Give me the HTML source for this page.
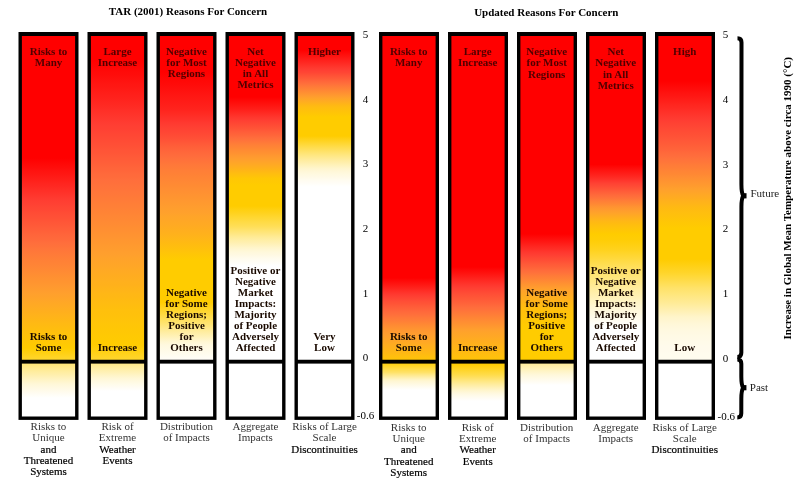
<!DOCTYPE html>
<html><head><meta charset="utf-8"><title>Reasons For Concern</title>
<style>
html,body{margin:0;padding:0;background:#fff;}
body{width:800px;height:482px;overflow:hidden;font-family:"Liberation Serif",serif;}
svg{display:block;position:absolute;left:0;top:0}
text{font-family:"Liberation Serif",serif;font-size:11px;text-anchor:middle;fill:#000}
.bt{font-weight:bold;fill:#500000}
.bb{font-weight:bold;fill:#1a0a00}
.ti{font-weight:bold;fill:#000}
.u{fill:#333}
.u2{fill:#000;stroke:#000;stroke-width:0.2px}
.ax{fill:#000}
.lb{text-anchor:start;fill:#222}
</style></head><body>
<svg width="800" height="482" viewBox="0 0 800 482">
<defs><linearGradient id="g00" gradientUnits="userSpaceOnUse" x1="0" y1="36.0" x2="0" y2="416.5"><stop offset="0.0000" stop-color="#ff0000"/><stop offset="0.0079" stop-color="#ff0000"/><stop offset="0.0158" stop-color="#ff0000"/><stop offset="0.0237" stop-color="#ff0000"/><stop offset="0.0315" stop-color="#ff0000"/><stop offset="0.0394" stop-color="#ff0000"/><stop offset="0.0473" stop-color="#ff0000"/><stop offset="0.0552" stop-color="#ff0000"/><stop offset="0.0631" stop-color="#ff0000"/><stop offset="0.0710" stop-color="#ff0000"/><stop offset="0.0788" stop-color="#ff0000"/><stop offset="0.0867" stop-color="#ff0000"/><stop offset="0.0946" stop-color="#ff0000"/><stop offset="0.1025" stop-color="#ff0000"/><stop offset="0.1104" stop-color="#ff0000"/><stop offset="0.1183" stop-color="#ff0000"/><stop offset="0.1261" stop-color="#ff0000"/><stop offset="0.1340" stop-color="#ff0000"/><stop offset="0.1419" stop-color="#ff0000"/><stop offset="0.1498" stop-color="#ff0000"/><stop offset="0.1577" stop-color="#ff0000"/><stop offset="0.1656" stop-color="#ff0000"/><stop offset="0.1735" stop-color="#ff0000"/><stop offset="0.1813" stop-color="#ff0000"/><stop offset="0.1892" stop-color="#ff0000"/><stop offset="0.1971" stop-color="#ff0000"/><stop offset="0.2050" stop-color="#ff0000"/><stop offset="0.2129" stop-color="#ff0000"/><stop offset="0.2208" stop-color="#ff0000"/><stop offset="0.2286" stop-color="#ff0000"/><stop offset="0.2365" stop-color="#ff0000"/><stop offset="0.2444" stop-color="#ff0000"/><stop offset="0.2523" stop-color="#ff0000"/><stop offset="0.2602" stop-color="#ff0000"/><stop offset="0.2681" stop-color="#ff0000"/><stop offset="0.2760" stop-color="#ff0000"/><stop offset="0.2838" stop-color="#ff0000"/><stop offset="0.2917" stop-color="#ff0000"/><stop offset="0.2996" stop-color="#ff0000"/><stop offset="0.3075" stop-color="#ff0000"/><stop offset="0.3154" stop-color="#ff0000"/><stop offset="0.3206" stop-color="#ff0000"/><stop offset="0.3233" stop-color="#ff0101"/><stop offset="0.3311" stop-color="#ff0605"/><stop offset="0.3390" stop-color="#ff0a08"/><stop offset="0.3469" stop-color="#ff0e0c"/><stop offset="0.3548" stop-color="#ff1310"/><stop offset="0.3627" stop-color="#ff1713"/><stop offset="0.3706" stop-color="#ff1b17"/><stop offset="0.3784" stop-color="#ff201a"/><stop offset="0.3863" stop-color="#ff241e"/><stop offset="0.3942" stop-color="#ff2822"/><stop offset="0.4021" stop-color="#ff2d25"/><stop offset="0.4100" stop-color="#ff3129"/><stop offset="0.4179" stop-color="#ff352c"/><stop offset="0.4258" stop-color="#ff3a30"/><stop offset="0.4336" stop-color="#ff3e32"/><stop offset="0.4415" stop-color="#ff4133"/><stop offset="0.4494" stop-color="#ff4534"/><stop offset="0.4520" stop-color="#ff4634"/><stop offset="0.4573" stop-color="#ff4834"/><stop offset="0.4652" stop-color="#ff4c35"/><stop offset="0.4731" stop-color="#ff4f36"/><stop offset="0.4809" stop-color="#ff5236"/><stop offset="0.4888" stop-color="#ff5637"/><stop offset="0.4967" stop-color="#ff5938"/><stop offset="0.5046" stop-color="#ff5d39"/><stop offset="0.5125" stop-color="#ff6039"/><stop offset="0.5204" stop-color="#ff643a"/><stop offset="0.5283" stop-color="#ff673b"/><stop offset="0.5361" stop-color="#ff6a3b"/><stop offset="0.5440" stop-color="#ff6e3c"/><stop offset="0.5519" stop-color="#ff713b"/><stop offset="0.5598" stop-color="#ff753a"/><stop offset="0.5677" stop-color="#ff7839"/><stop offset="0.5756" stop-color="#ff7b38"/><stop offset="0.5834" stop-color="#ff7e37"/><stop offset="0.5913" stop-color="#ff8136"/><stop offset="0.5992" stop-color="#ff8336"/><stop offset="0.6071" stop-color="#ff8635"/><stop offset="0.6150" stop-color="#ff8934"/><stop offset="0.6229" stop-color="#ff8c33"/><stop offset="0.6307" stop-color="#ff8f32"/><stop offset="0.6386" stop-color="#ff9231"/><stop offset="0.6465" stop-color="#ff9430"/><stop offset="0.6544" stop-color="#ff9730"/><stop offset="0.6623" stop-color="#ff9a2f"/><stop offset="0.6675" stop-color="#ff9c2e"/><stop offset="0.6702" stop-color="#ff9d2e"/><stop offset="0.6781" stop-color="#ffa02d"/><stop offset="0.6859" stop-color="#ffa22a"/><stop offset="0.6938" stop-color="#ffa528"/><stop offset="0.7017" stop-color="#ffa825"/><stop offset="0.7096" stop-color="#ffaa23"/><stop offset="0.7175" stop-color="#ffad20"/><stop offset="0.7254" stop-color="#ffaf1d"/><stop offset="0.7332" stop-color="#ffb21b"/><stop offset="0.7411" stop-color="#ffb418"/><stop offset="0.7490" stop-color="#ffb715"/><stop offset="0.7569" stop-color="#ffba13"/><stop offset="0.7595" stop-color="#ffba12"/><stop offset="0.7648" stop-color="#ffbc10"/><stop offset="0.7727" stop-color="#ffbe0e"/><stop offset="0.7806" stop-color="#ffc10c"/><stop offset="0.7884" stop-color="#ffc309"/><stop offset="0.7963" stop-color="#ffc507"/><stop offset="0.8042" stop-color="#ffc705"/><stop offset="0.8121" stop-color="#ffca02"/><stop offset="0.8200" stop-color="#ffcc00"/><stop offset="0.8279" stop-color="#ffcf0c"/><stop offset="0.8357" stop-color="#ffd117"/><stop offset="0.8436" stop-color="#ffd423"/><stop offset="0.8502" stop-color="#ffd62d"/><stop offset="0.8515" stop-color="#ffd837"/><stop offset="0.8594" stop-color="#ffe472"/><stop offset="0.8673" stop-color="#ffe782"/><stop offset="0.8752" stop-color="#ffea92"/><stop offset="0.8830" stop-color="#ffeda0"/><stop offset="0.8909" stop-color="#ffefae"/><stop offset="0.8988" stop-color="#fff2bc"/><stop offset="0.9067" stop-color="#fff5ca"/><stop offset="0.9146" stop-color="#fff7d7"/><stop offset="0.9225" stop-color="#fff9e0"/><stop offset="0.9304" stop-color="#fffae8"/><stop offset="0.9382" stop-color="#fffcf1"/><stop offset="0.9461" stop-color="#fffef9"/><stop offset="0.9514" stop-color="#ffffff"/><stop offset="0.9540" stop-color="#ffffff"/><stop offset="0.9619" stop-color="#ffffff"/><stop offset="0.9698" stop-color="#ffffff"/><stop offset="0.9777" stop-color="#ffffff"/><stop offset="0.9855" stop-color="#ffffff"/><stop offset="0.9934" stop-color="#ffffff"/></linearGradient><linearGradient id="g01" gradientUnits="userSpaceOnUse" x1="0" y1="36.0" x2="0" y2="416.5"><stop offset="0.0000" stop-color="#ff0000"/><stop offset="0.0079" stop-color="#ff0000"/><stop offset="0.0158" stop-color="#ff0000"/><stop offset="0.0237" stop-color="#ff0000"/><stop offset="0.0315" stop-color="#ff0000"/><stop offset="0.0394" stop-color="#ff0000"/><stop offset="0.0473" stop-color="#ff0000"/><stop offset="0.0552" stop-color="#ff0000"/><stop offset="0.0631" stop-color="#ff0000"/><stop offset="0.0710" stop-color="#ff0302"/><stop offset="0.0788" stop-color="#ff0504"/><stop offset="0.0867" stop-color="#ff0807"/><stop offset="0.0946" stop-color="#ff0b09"/><stop offset="0.1025" stop-color="#ff0d0b"/><stop offset="0.1104" stop-color="#ff100d"/><stop offset="0.1183" stop-color="#ff1310"/><stop offset="0.1261" stop-color="#ff1612"/><stop offset="0.1340" stop-color="#ff1814"/><stop offset="0.1419" stop-color="#ff1b16"/><stop offset="0.1498" stop-color="#ff1e19"/><stop offset="0.1577" stop-color="#ff201b"/><stop offset="0.1656" stop-color="#ff231d"/><stop offset="0.1682" stop-color="#ff241e"/><stop offset="0.1735" stop-color="#ff2620"/><stop offset="0.1813" stop-color="#ff2922"/><stop offset="0.1892" stop-color="#ff2c25"/><stop offset="0.1971" stop-color="#ff3028"/><stop offset="0.2050" stop-color="#ff332a"/><stop offset="0.2129" stop-color="#ff362d"/><stop offset="0.2208" stop-color="#ff392f"/><stop offset="0.2286" stop-color="#ff3c32"/><stop offset="0.2365" stop-color="#ff3f33"/><stop offset="0.2444" stop-color="#ff4133"/><stop offset="0.2523" stop-color="#ff4434"/><stop offset="0.2602" stop-color="#ff4734"/><stop offset="0.2681" stop-color="#ff4935"/><stop offset="0.2760" stop-color="#ff4c35"/><stop offset="0.2838" stop-color="#ff4e36"/><stop offset="0.2917" stop-color="#ff5136"/><stop offset="0.2996" stop-color="#ff5437"/><stop offset="0.3075" stop-color="#ff5637"/><stop offset="0.3154" stop-color="#ff5938"/><stop offset="0.3233" stop-color="#ff5c38"/><stop offset="0.3311" stop-color="#ff5e39"/><stop offset="0.3390" stop-color="#ff6139"/><stop offset="0.3469" stop-color="#ff643a"/><stop offset="0.3548" stop-color="#ff663a"/><stop offset="0.3627" stop-color="#ff693b"/><stop offset="0.3706" stop-color="#ff6b3b"/><stop offset="0.3784" stop-color="#ff6e3c"/><stop offset="0.3863" stop-color="#ff703b"/><stop offset="0.3942" stop-color="#ff723b"/><stop offset="0.4021" stop-color="#ff743a"/><stop offset="0.4100" stop-color="#ff763a"/><stop offset="0.4179" stop-color="#ff7839"/><stop offset="0.4258" stop-color="#ff7a38"/><stop offset="0.4336" stop-color="#ff7c38"/><stop offset="0.4415" stop-color="#ff7e37"/><stop offset="0.4494" stop-color="#ff8037"/><stop offset="0.4573" stop-color="#ff8236"/><stop offset="0.4652" stop-color="#ff8435"/><stop offset="0.4731" stop-color="#ff8635"/><stop offset="0.4809" stop-color="#ff8834"/><stop offset="0.4888" stop-color="#ff8a34"/><stop offset="0.4967" stop-color="#ff8c33"/><stop offset="0.5046" stop-color="#ff8e32"/><stop offset="0.5125" stop-color="#ff9032"/><stop offset="0.5204" stop-color="#ff9231"/><stop offset="0.5283" stop-color="#ff9431"/><stop offset="0.5361" stop-color="#ff9630"/><stop offset="0.5440" stop-color="#ff982f"/><stop offset="0.5519" stop-color="#ff9a2f"/><stop offset="0.5598" stop-color="#ff9c2e"/><stop offset="0.5677" stop-color="#ff9e2e"/><stop offset="0.5756" stop-color="#ffa02d"/><stop offset="0.5834" stop-color="#ffa22b"/><stop offset="0.5913" stop-color="#ffa429"/><stop offset="0.5992" stop-color="#ffa528"/><stop offset="0.6071" stop-color="#ffa726"/><stop offset="0.6150" stop-color="#ffa924"/><stop offset="0.6229" stop-color="#ffab22"/><stop offset="0.6307" stop-color="#ffac20"/><stop offset="0.6386" stop-color="#ffae1f"/><stop offset="0.6465" stop-color="#ffb01d"/><stop offset="0.6544" stop-color="#ffb11b"/><stop offset="0.6623" stop-color="#ffb319"/><stop offset="0.6702" stop-color="#ffb518"/><stop offset="0.6781" stop-color="#ffb716"/><stop offset="0.6859" stop-color="#ffb814"/><stop offset="0.6938" stop-color="#ffba12"/><stop offset="0.7017" stop-color="#ffbc11"/><stop offset="0.7096" stop-color="#ffbd0f"/><stop offset="0.7175" stop-color="#ffbf0d"/><stop offset="0.7201" stop-color="#ffc00d"/><stop offset="0.7254" stop-color="#ffc00c"/><stop offset="0.7332" stop-color="#ffc10b"/><stop offset="0.7411" stop-color="#ffc20a"/><stop offset="0.7490" stop-color="#ffc409"/><stop offset="0.7569" stop-color="#ffc508"/><stop offset="0.7648" stop-color="#ffc606"/><stop offset="0.7727" stop-color="#ffc705"/><stop offset="0.7806" stop-color="#ffc804"/><stop offset="0.7884" stop-color="#ffc903"/><stop offset="0.7963" stop-color="#ffca02"/><stop offset="0.8042" stop-color="#ffcb01"/><stop offset="0.8121" stop-color="#ffcc00"/><stop offset="0.8200" stop-color="#ffce09"/><stop offset="0.8279" stop-color="#ffd013"/><stop offset="0.8357" stop-color="#ffd21c"/><stop offset="0.8436" stop-color="#ffd425"/><stop offset="0.8502" stop-color="#ffd62d"/><stop offset="0.8515" stop-color="#ffd839"/><stop offset="0.8594" stop-color="#ffe784"/><stop offset="0.8673" stop-color="#ffeb96"/><stop offset="0.8752" stop-color="#ffeea6"/><stop offset="0.8830" stop-color="#fff1b5"/><stop offset="0.8909" stop-color="#fff4c5"/><stop offset="0.8988" stop-color="#fff7d4"/><stop offset="0.9067" stop-color="#fff9df"/><stop offset="0.9146" stop-color="#fffbe9"/><stop offset="0.9225" stop-color="#fffcf2"/><stop offset="0.9304" stop-color="#fffefc"/><stop offset="0.9330" stop-color="#ffffff"/><stop offset="0.9382" stop-color="#ffffff"/><stop offset="0.9461" stop-color="#ffffff"/><stop offset="0.9540" stop-color="#ffffff"/><stop offset="0.9619" stop-color="#ffffff"/><stop offset="0.9698" stop-color="#ffffff"/><stop offset="0.9777" stop-color="#ffffff"/><stop offset="0.9855" stop-color="#ffffff"/><stop offset="0.9934" stop-color="#ffffff"/></linearGradient><linearGradient id="g02" gradientUnits="userSpaceOnUse" x1="0" y1="36.0" x2="0" y2="416.5"><stop offset="0.0000" stop-color="#ff0000"/><stop offset="0.0079" stop-color="#ff0000"/><stop offset="0.0158" stop-color="#ff0000"/><stop offset="0.0237" stop-color="#ff0000"/><stop offset="0.0315" stop-color="#ff0000"/><stop offset="0.0394" stop-color="#ff0000"/><stop offset="0.0473" stop-color="#ff0000"/><stop offset="0.0552" stop-color="#ff0000"/><stop offset="0.0631" stop-color="#ff0000"/><stop offset="0.0710" stop-color="#ff0000"/><stop offset="0.0788" stop-color="#ff0000"/><stop offset="0.0867" stop-color="#ff0000"/><stop offset="0.0946" stop-color="#ff0000"/><stop offset="0.1025" stop-color="#ff0302"/><stop offset="0.1104" stop-color="#ff0605"/><stop offset="0.1183" stop-color="#ff0907"/><stop offset="0.1261" stop-color="#ff0b09"/><stop offset="0.1340" stop-color="#ff0e0c"/><stop offset="0.1419" stop-color="#ff110e"/><stop offset="0.1498" stop-color="#ff1411"/><stop offset="0.1577" stop-color="#ff1713"/><stop offset="0.1656" stop-color="#ff1a15"/><stop offset="0.1735" stop-color="#ff1c18"/><stop offset="0.1813" stop-color="#ff1f1a"/><stop offset="0.1892" stop-color="#ff221c"/><stop offset="0.1945" stop-color="#ff241e"/><stop offset="0.1971" stop-color="#ff261f"/><stop offset="0.2050" stop-color="#ff2b23"/><stop offset="0.2129" stop-color="#ff2f28"/><stop offset="0.2208" stop-color="#ff342c"/><stop offset="0.2286" stop-color="#ff3930"/><stop offset="0.2365" stop-color="#ff3e32"/><stop offset="0.2444" stop-color="#ff4233"/><stop offset="0.2523" stop-color="#ff4634"/><stop offset="0.2602" stop-color="#ff4a35"/><stop offset="0.2681" stop-color="#ff4f36"/><stop offset="0.2760" stop-color="#ff5437"/><stop offset="0.2838" stop-color="#ff5a38"/><stop offset="0.2917" stop-color="#ff5f39"/><stop offset="0.2996" stop-color="#ff643a"/><stop offset="0.3075" stop-color="#ff683b"/><stop offset="0.3154" stop-color="#ff6c3c"/><stop offset="0.3233" stop-color="#ff703b"/><stop offset="0.3311" stop-color="#ff743a"/><stop offset="0.3390" stop-color="#ff7839"/><stop offset="0.3469" stop-color="#ff7b38"/><stop offset="0.3522" stop-color="#ff7e37"/><stop offset="0.3548" stop-color="#ff7f37"/><stop offset="0.3627" stop-color="#ff8136"/><stop offset="0.3706" stop-color="#ff8435"/><stop offset="0.3784" stop-color="#ff8635"/><stop offset="0.3863" stop-color="#ff8934"/><stop offset="0.3942" stop-color="#ff8b33"/><stop offset="0.4021" stop-color="#ff8e33"/><stop offset="0.4100" stop-color="#ff9032"/><stop offset="0.4179" stop-color="#ff9331"/><stop offset="0.4258" stop-color="#ff9530"/><stop offset="0.4336" stop-color="#ff9830"/><stop offset="0.4415" stop-color="#ff9a2f"/><stop offset="0.4494" stop-color="#ff9d2e"/><stop offset="0.4573" stop-color="#ff9f2d"/><stop offset="0.4652" stop-color="#ffa12c"/><stop offset="0.4731" stop-color="#ffa429"/><stop offset="0.4809" stop-color="#ffa627"/><stop offset="0.4888" stop-color="#ffa825"/><stop offset="0.4967" stop-color="#ffaa23"/><stop offset="0.5046" stop-color="#ffac20"/><stop offset="0.5125" stop-color="#ffaf1e"/><stop offset="0.5204" stop-color="#ffb11c"/><stop offset="0.5230" stop-color="#ffb21b"/><stop offset="0.5283" stop-color="#ffb419"/><stop offset="0.5361" stop-color="#ffb716"/><stop offset="0.5440" stop-color="#ffba12"/><stop offset="0.5519" stop-color="#ffbd0f"/><stop offset="0.5598" stop-color="#ffc00c"/><stop offset="0.5677" stop-color="#ffc409"/><stop offset="0.5756" stop-color="#ffc705"/><stop offset="0.5834" stop-color="#ffca02"/><stop offset="0.5887" stop-color="#ffcc00"/><stop offset="0.5913" stop-color="#ffcc00"/><stop offset="0.5992" stop-color="#ffcc00"/><stop offset="0.6071" stop-color="#ffcc00"/><stop offset="0.6150" stop-color="#ffcc00"/><stop offset="0.6229" stop-color="#ffcc00"/><stop offset="0.6307" stop-color="#ffcc00"/><stop offset="0.6386" stop-color="#ffcc00"/><stop offset="0.6465" stop-color="#ffcc00"/><stop offset="0.6544" stop-color="#ffcc00"/><stop offset="0.6623" stop-color="#ffcc00"/><stop offset="0.6702" stop-color="#ffcc00"/><stop offset="0.6781" stop-color="#ffcc00"/><stop offset="0.6859" stop-color="#ffcc00"/><stop offset="0.6938" stop-color="#ffcc00"/><stop offset="0.6991" stop-color="#ffcc00"/><stop offset="0.7017" stop-color="#ffcd05"/><stop offset="0.7096" stop-color="#ffd015"/><stop offset="0.7175" stop-color="#ffd425"/><stop offset="0.7254" stop-color="#ffd734"/><stop offset="0.7332" stop-color="#ffda44"/><stop offset="0.7411" stop-color="#ffde53"/><stop offset="0.7490" stop-color="#ffe163"/><stop offset="0.7569" stop-color="#ffe473"/><stop offset="0.7595" stop-color="#ffe578"/><stop offset="0.7648" stop-color="#ffe784"/><stop offset="0.7727" stop-color="#ffeb96"/><stop offset="0.7806" stop-color="#ffeea6"/><stop offset="0.7884" stop-color="#fff1b5"/><stop offset="0.7963" stop-color="#fff4c5"/><stop offset="0.8042" stop-color="#fff7d4"/><stop offset="0.8121" stop-color="#fff9df"/><stop offset="0.8200" stop-color="#fffae4"/><stop offset="0.8279" stop-color="#fffbe9"/><stop offset="0.8357" stop-color="#fffcee"/><stop offset="0.8436" stop-color="#fffdf3"/><stop offset="0.8502" stop-color="#fffdf7"/><stop offset="0.8515" stop-color="#fffef8"/><stop offset="0.8594" stop-color="#ffffff"/><stop offset="0.8673" stop-color="#ffffff"/><stop offset="0.8752" stop-color="#ffffff"/><stop offset="0.8830" stop-color="#ffffff"/><stop offset="0.8909" stop-color="#ffffff"/><stop offset="0.8988" stop-color="#ffffff"/><stop offset="0.9067" stop-color="#ffffff"/><stop offset="0.9146" stop-color="#ffffff"/><stop offset="0.9225" stop-color="#ffffff"/><stop offset="0.9304" stop-color="#ffffff"/><stop offset="0.9382" stop-color="#ffffff"/><stop offset="0.9461" stop-color="#ffffff"/><stop offset="0.9540" stop-color="#ffffff"/><stop offset="0.9619" stop-color="#ffffff"/><stop offset="0.9698" stop-color="#ffffff"/><stop offset="0.9777" stop-color="#ffffff"/><stop offset="0.9855" stop-color="#ffffff"/><stop offset="0.9934" stop-color="#ffffff"/></linearGradient><linearGradient id="g03" gradientUnits="userSpaceOnUse" x1="0" y1="36.0" x2="0" y2="416.5"><stop offset="0.0000" stop-color="#ff0000"/><stop offset="0.0079" stop-color="#ff0000"/><stop offset="0.0158" stop-color="#ff0000"/><stop offset="0.0237" stop-color="#ff0000"/><stop offset="0.0315" stop-color="#ff0000"/><stop offset="0.0394" stop-color="#ff0000"/><stop offset="0.0473" stop-color="#ff0000"/><stop offset="0.0552" stop-color="#ff0000"/><stop offset="0.0631" stop-color="#ff0000"/><stop offset="0.0710" stop-color="#ff0000"/><stop offset="0.0788" stop-color="#ff0000"/><stop offset="0.0867" stop-color="#ff0000"/><stop offset="0.0946" stop-color="#ff0000"/><stop offset="0.1025" stop-color="#ff0000"/><stop offset="0.1104" stop-color="#ff0000"/><stop offset="0.1183" stop-color="#ff0000"/><stop offset="0.1261" stop-color="#ff0000"/><stop offset="0.1340" stop-color="#ff0000"/><stop offset="0.1419" stop-color="#ff0000"/><stop offset="0.1498" stop-color="#ff0000"/><stop offset="0.1577" stop-color="#ff0000"/><stop offset="0.1603" stop-color="#ff0000"/><stop offset="0.1656" stop-color="#ff0504"/><stop offset="0.1735" stop-color="#ff0c0a"/><stop offset="0.1813" stop-color="#ff1410"/><stop offset="0.1892" stop-color="#ff1b17"/><stop offset="0.1911" stop-color="#ff1d18"/><stop offset="0.1971" stop-color="#ff241e"/><stop offset="0.2050" stop-color="#ff2d25"/><stop offset="0.2129" stop-color="#ff362d"/><stop offset="0.2208" stop-color="#ff3e32"/><stop offset="0.2286" stop-color="#ff4634"/><stop offset="0.2365" stop-color="#ff4d35"/><stop offset="0.2392" stop-color="#ff5036"/><stop offset="0.2444" stop-color="#ff5537"/><stop offset="0.2523" stop-color="#ff5d39"/><stop offset="0.2602" stop-color="#ff653a"/><stop offset="0.2681" stop-color="#ff6d3c"/><stop offset="0.2760" stop-color="#ff753a"/><stop offset="0.2838" stop-color="#ff7d38"/><stop offset="0.2891" stop-color="#ff8236"/><stop offset="0.2917" stop-color="#ff8435"/><stop offset="0.2996" stop-color="#ff8b33"/><stop offset="0.3075" stop-color="#ff9131"/><stop offset="0.3154" stop-color="#ff9830"/><stop offset="0.3233" stop-color="#ff9e2e"/><stop offset="0.3311" stop-color="#ffa429"/><stop offset="0.3380" stop-color="#ffa924"/><stop offset="0.3390" stop-color="#ffaa23"/><stop offset="0.3469" stop-color="#ffb01c"/><stop offset="0.3548" stop-color="#ffb715"/><stop offset="0.3627" stop-color="#ffbe0f"/><stop offset="0.3706" stop-color="#ffc408"/><stop offset="0.3732" stop-color="#ffc705"/><stop offset="0.3784" stop-color="#ffc804"/><stop offset="0.3863" stop-color="#ffca02"/><stop offset="0.3916" stop-color="#ffcc00"/><stop offset="0.3942" stop-color="#ffcc00"/><stop offset="0.4021" stop-color="#ffcc00"/><stop offset="0.4100" stop-color="#ffcc00"/><stop offset="0.4179" stop-color="#ffcc00"/><stop offset="0.4258" stop-color="#ffcc00"/><stop offset="0.4336" stop-color="#ffcc00"/><stop offset="0.4415" stop-color="#ffcc00"/><stop offset="0.4468" stop-color="#ffcc00"/><stop offset="0.4494" stop-color="#ffcd04"/><stop offset="0.4573" stop-color="#ffd011"/><stop offset="0.4652" stop-color="#ffd21e"/><stop offset="0.4731" stop-color="#ffd52b"/><stop offset="0.4744" stop-color="#ffd62d"/><stop offset="0.4809" stop-color="#ffd838"/><stop offset="0.4888" stop-color="#ffdb45"/><stop offset="0.4967" stop-color="#ffdd51"/><stop offset="0.5020" stop-color="#ffdf5a"/><stop offset="0.5046" stop-color="#ffe060"/><stop offset="0.5125" stop-color="#ffe472"/><stop offset="0.5204" stop-color="#ffe784"/><stop offset="0.5283" stop-color="#ffeb96"/><stop offset="0.5361" stop-color="#ffeea5"/><stop offset="0.5440" stop-color="#fff0b3"/><stop offset="0.5519" stop-color="#fff3c2"/><stop offset="0.5561" stop-color="#fff5ca"/><stop offset="0.5598" stop-color="#fff6d0"/><stop offset="0.5677" stop-color="#fff8db"/><stop offset="0.5756" stop-color="#fff9e3"/><stop offset="0.5834" stop-color="#fffbec"/><stop offset="0.5913" stop-color="#fffdf3"/><stop offset="0.5992" stop-color="#fffefa"/><stop offset="0.6045" stop-color="#ffffff"/><stop offset="0.6071" stop-color="#ffffff"/><stop offset="0.6150" stop-color="#ffffff"/><stop offset="0.6229" stop-color="#ffffff"/><stop offset="0.6307" stop-color="#ffffff"/><stop offset="0.6386" stop-color="#ffffff"/><stop offset="0.6465" stop-color="#ffffff"/><stop offset="0.6544" stop-color="#ffffff"/><stop offset="0.6623" stop-color="#ffffff"/><stop offset="0.6702" stop-color="#ffffff"/><stop offset="0.6781" stop-color="#ffffff"/><stop offset="0.6859" stop-color="#ffffff"/><stop offset="0.6938" stop-color="#ffffff"/><stop offset="0.7017" stop-color="#ffffff"/><stop offset="0.7096" stop-color="#ffffff"/><stop offset="0.7175" stop-color="#ffffff"/><stop offset="0.7254" stop-color="#ffffff"/><stop offset="0.7332" stop-color="#ffffff"/><stop offset="0.7411" stop-color="#ffffff"/><stop offset="0.7490" stop-color="#ffffff"/><stop offset="0.7569" stop-color="#ffffff"/><stop offset="0.7648" stop-color="#ffffff"/><stop offset="0.7727" stop-color="#ffffff"/><stop offset="0.7806" stop-color="#ffffff"/><stop offset="0.7884" stop-color="#ffffff"/><stop offset="0.7963" stop-color="#ffffff"/><stop offset="0.8042" stop-color="#ffffff"/><stop offset="0.8121" stop-color="#ffffff"/><stop offset="0.8200" stop-color="#ffffff"/><stop offset="0.8279" stop-color="#ffffff"/><stop offset="0.8357" stop-color="#ffffff"/><stop offset="0.8436" stop-color="#ffffff"/><stop offset="0.8515" stop-color="#ffffff"/><stop offset="0.8594" stop-color="#ffffff"/><stop offset="0.8673" stop-color="#ffffff"/><stop offset="0.8752" stop-color="#ffffff"/><stop offset="0.8830" stop-color="#ffffff"/><stop offset="0.8909" stop-color="#ffffff"/><stop offset="0.8988" stop-color="#ffffff"/><stop offset="0.9067" stop-color="#ffffff"/><stop offset="0.9146" stop-color="#ffffff"/><stop offset="0.9225" stop-color="#ffffff"/><stop offset="0.9304" stop-color="#ffffff"/><stop offset="0.9382" stop-color="#ffffff"/><stop offset="0.9461" stop-color="#ffffff"/><stop offset="0.9540" stop-color="#ffffff"/><stop offset="0.9619" stop-color="#ffffff"/><stop offset="0.9698" stop-color="#ffffff"/><stop offset="0.9777" stop-color="#ffffff"/><stop offset="0.9855" stop-color="#ffffff"/><stop offset="0.9934" stop-color="#ffffff"/></linearGradient><linearGradient id="g04" gradientUnits="userSpaceOnUse" x1="0" y1="36.0" x2="0" y2="416.5"><stop offset="0.0000" stop-color="#ff0000"/><stop offset="0.0079" stop-color="#ff0000"/><stop offset="0.0158" stop-color="#ff0000"/><stop offset="0.0237" stop-color="#ff0000"/><stop offset="0.0315" stop-color="#ff0000"/><stop offset="0.0368" stop-color="#ff0000"/><stop offset="0.0394" stop-color="#ff0303"/><stop offset="0.0473" stop-color="#ff0d0b"/><stop offset="0.0552" stop-color="#ff1613"/><stop offset="0.0631" stop-color="#ff201b"/><stop offset="0.0710" stop-color="#ff2923"/><stop offset="0.0788" stop-color="#ff332a"/><stop offset="0.0867" stop-color="#ff3c32"/><stop offset="0.0946" stop-color="#ff4434"/><stop offset="0.0962" stop-color="#ff4634"/><stop offset="0.1025" stop-color="#ff4f36"/><stop offset="0.1104" stop-color="#ff5a38"/><stop offset="0.1183" stop-color="#ff653a"/><stop offset="0.1261" stop-color="#ff703b"/><stop offset="0.1340" stop-color="#ff7b38"/><stop offset="0.1393" stop-color="#ff8236"/><stop offset="0.1419" stop-color="#ff8635"/><stop offset="0.1498" stop-color="#ff9032"/><stop offset="0.1577" stop-color="#ff9b2f"/><stop offset="0.1656" stop-color="#ffa528"/><stop offset="0.1735" stop-color="#ffae1f"/><stop offset="0.1813" stop-color="#ffb715"/><stop offset="0.1840" stop-color="#ffba12"/><stop offset="0.1892" stop-color="#ffbe0f"/><stop offset="0.1971" stop-color="#ffc20a"/><stop offset="0.2050" stop-color="#ffc705"/><stop offset="0.2129" stop-color="#ffcc00"/><stop offset="0.2208" stop-color="#ffcc00"/><stop offset="0.2286" stop-color="#ffcc00"/><stop offset="0.2365" stop-color="#ffcc00"/><stop offset="0.2444" stop-color="#ffcc00"/><stop offset="0.2523" stop-color="#ffcc00"/><stop offset="0.2602" stop-color="#ffcc00"/><stop offset="0.2628" stop-color="#ffcc00"/><stop offset="0.2681" stop-color="#ffcf0e"/><stop offset="0.2760" stop-color="#ffd322"/><stop offset="0.2838" stop-color="#ffd836"/><stop offset="0.2917" stop-color="#ffdc4b"/><stop offset="0.2996" stop-color="#ffe05f"/><stop offset="0.3035" stop-color="#ffe269"/><stop offset="0.3075" stop-color="#ffe473"/><stop offset="0.3154" stop-color="#ffe886"/><stop offset="0.3233" stop-color="#ffeb98"/><stop offset="0.3311" stop-color="#ffeea9"/><stop offset="0.3390" stop-color="#fff2b9"/><stop offset="0.3469" stop-color="#fff5ca"/><stop offset="0.3548" stop-color="#fff7d7"/><stop offset="0.3627" stop-color="#fff9df"/><stop offset="0.3706" stop-color="#fffae7"/><stop offset="0.3784" stop-color="#fffcef"/><stop offset="0.3811" stop-color="#fffcf2"/><stop offset="0.3863" stop-color="#fffdf6"/><stop offset="0.3942" stop-color="#fffffd"/><stop offset="0.3968" stop-color="#ffffff"/><stop offset="0.4021" stop-color="#ffffff"/><stop offset="0.4100" stop-color="#ffffff"/><stop offset="0.4179" stop-color="#ffffff"/><stop offset="0.4258" stop-color="#ffffff"/><stop offset="0.4336" stop-color="#ffffff"/><stop offset="0.4415" stop-color="#ffffff"/><stop offset="0.4494" stop-color="#ffffff"/><stop offset="0.4573" stop-color="#ffffff"/><stop offset="0.4652" stop-color="#ffffff"/><stop offset="0.4731" stop-color="#ffffff"/><stop offset="0.4809" stop-color="#ffffff"/><stop offset="0.4888" stop-color="#ffffff"/><stop offset="0.4967" stop-color="#ffffff"/><stop offset="0.5046" stop-color="#ffffff"/><stop offset="0.5125" stop-color="#ffffff"/><stop offset="0.5204" stop-color="#ffffff"/><stop offset="0.5283" stop-color="#ffffff"/><stop offset="0.5361" stop-color="#ffffff"/><stop offset="0.5440" stop-color="#ffffff"/><stop offset="0.5519" stop-color="#ffffff"/><stop offset="0.5598" stop-color="#ffffff"/><stop offset="0.5677" stop-color="#ffffff"/><stop offset="0.5756" stop-color="#ffffff"/><stop offset="0.5834" stop-color="#ffffff"/><stop offset="0.5913" stop-color="#ffffff"/><stop offset="0.5992" stop-color="#ffffff"/><stop offset="0.6071" stop-color="#ffffff"/><stop offset="0.6150" stop-color="#ffffff"/><stop offset="0.6229" stop-color="#ffffff"/><stop offset="0.6307" stop-color="#ffffff"/><stop offset="0.6386" stop-color="#ffffff"/><stop offset="0.6465" stop-color="#ffffff"/><stop offset="0.6544" stop-color="#ffffff"/><stop offset="0.6623" stop-color="#ffffff"/><stop offset="0.6702" stop-color="#ffffff"/><stop offset="0.6781" stop-color="#ffffff"/><stop offset="0.6859" stop-color="#ffffff"/><stop offset="0.6938" stop-color="#ffffff"/><stop offset="0.7017" stop-color="#ffffff"/><stop offset="0.7096" stop-color="#ffffff"/><stop offset="0.7175" stop-color="#ffffff"/><stop offset="0.7254" stop-color="#ffffff"/><stop offset="0.7332" stop-color="#ffffff"/><stop offset="0.7411" stop-color="#ffffff"/><stop offset="0.7490" stop-color="#ffffff"/><stop offset="0.7569" stop-color="#ffffff"/><stop offset="0.7648" stop-color="#ffffff"/><stop offset="0.7727" stop-color="#ffffff"/><stop offset="0.7806" stop-color="#ffffff"/><stop offset="0.7884" stop-color="#ffffff"/><stop offset="0.7963" stop-color="#ffffff"/><stop offset="0.8042" stop-color="#ffffff"/><stop offset="0.8121" stop-color="#ffffff"/><stop offset="0.8200" stop-color="#ffffff"/><stop offset="0.8279" stop-color="#ffffff"/><stop offset="0.8357" stop-color="#ffffff"/><stop offset="0.8436" stop-color="#ffffff"/><stop offset="0.8515" stop-color="#ffffff"/><stop offset="0.8594" stop-color="#ffffff"/><stop offset="0.8673" stop-color="#ffffff"/><stop offset="0.8752" stop-color="#ffffff"/><stop offset="0.8830" stop-color="#ffffff"/><stop offset="0.8909" stop-color="#ffffff"/><stop offset="0.8988" stop-color="#ffffff"/><stop offset="0.9067" stop-color="#ffffff"/><stop offset="0.9146" stop-color="#ffffff"/><stop offset="0.9225" stop-color="#ffffff"/><stop offset="0.9304" stop-color="#ffffff"/><stop offset="0.9382" stop-color="#ffffff"/><stop offset="0.9461" stop-color="#ffffff"/><stop offset="0.9540" stop-color="#ffffff"/><stop offset="0.9619" stop-color="#ffffff"/><stop offset="0.9698" stop-color="#ffffff"/><stop offset="0.9777" stop-color="#ffffff"/><stop offset="0.9855" stop-color="#ffffff"/><stop offset="0.9934" stop-color="#ffffff"/></linearGradient><linearGradient id="g10" gradientUnits="userSpaceOnUse" x1="0" y1="36.0" x2="0" y2="416.5"><stop offset="0.0000" stop-color="#ff0000"/><stop offset="0.0079" stop-color="#ff0000"/><stop offset="0.0158" stop-color="#ff0000"/><stop offset="0.0237" stop-color="#ff0000"/><stop offset="0.0315" stop-color="#ff0000"/><stop offset="0.0394" stop-color="#ff0000"/><stop offset="0.0473" stop-color="#ff0000"/><stop offset="0.0552" stop-color="#ff0000"/><stop offset="0.0631" stop-color="#ff0000"/><stop offset="0.0710" stop-color="#ff0000"/><stop offset="0.0788" stop-color="#ff0000"/><stop offset="0.0867" stop-color="#ff0000"/><stop offset="0.0946" stop-color="#ff0000"/><stop offset="0.1025" stop-color="#ff0000"/><stop offset="0.1104" stop-color="#ff0000"/><stop offset="0.1183" stop-color="#ff0000"/><stop offset="0.1261" stop-color="#ff0000"/><stop offset="0.1340" stop-color="#ff0000"/><stop offset="0.1419" stop-color="#ff0000"/><stop offset="0.1498" stop-color="#ff0000"/><stop offset="0.1577" stop-color="#ff0000"/><stop offset="0.1656" stop-color="#ff0000"/><stop offset="0.1735" stop-color="#ff0000"/><stop offset="0.1813" stop-color="#ff0000"/><stop offset="0.1892" stop-color="#ff0000"/><stop offset="0.1971" stop-color="#ff0000"/><stop offset="0.2050" stop-color="#ff0000"/><stop offset="0.2129" stop-color="#ff0000"/><stop offset="0.2208" stop-color="#ff0000"/><stop offset="0.2286" stop-color="#ff0000"/><stop offset="0.2365" stop-color="#ff0000"/><stop offset="0.2444" stop-color="#ff0000"/><stop offset="0.2523" stop-color="#ff0000"/><stop offset="0.2602" stop-color="#ff0000"/><stop offset="0.2681" stop-color="#ff0000"/><stop offset="0.2760" stop-color="#ff0000"/><stop offset="0.2838" stop-color="#ff0000"/><stop offset="0.2917" stop-color="#ff0000"/><stop offset="0.2996" stop-color="#ff0000"/><stop offset="0.3075" stop-color="#ff0000"/><stop offset="0.3154" stop-color="#ff0000"/><stop offset="0.3233" stop-color="#ff0000"/><stop offset="0.3311" stop-color="#ff0000"/><stop offset="0.3390" stop-color="#ff0000"/><stop offset="0.3469" stop-color="#ff0000"/><stop offset="0.3548" stop-color="#ff0000"/><stop offset="0.3627" stop-color="#ff0000"/><stop offset="0.3706" stop-color="#ff0000"/><stop offset="0.3784" stop-color="#ff0000"/><stop offset="0.3863" stop-color="#ff0000"/><stop offset="0.3942" stop-color="#ff0000"/><stop offset="0.4021" stop-color="#ff0000"/><stop offset="0.4100" stop-color="#ff0000"/><stop offset="0.4179" stop-color="#ff0000"/><stop offset="0.4258" stop-color="#ff0000"/><stop offset="0.4336" stop-color="#ff0000"/><stop offset="0.4415" stop-color="#ff0000"/><stop offset="0.4494" stop-color="#ff0000"/><stop offset="0.4573" stop-color="#ff0000"/><stop offset="0.4652" stop-color="#ff0000"/><stop offset="0.4731" stop-color="#ff0000"/><stop offset="0.4809" stop-color="#ff0000"/><stop offset="0.4888" stop-color="#ff0000"/><stop offset="0.4967" stop-color="#ff0000"/><stop offset="0.5046" stop-color="#ff0000"/><stop offset="0.5125" stop-color="#ff0000"/><stop offset="0.5204" stop-color="#ff0000"/><stop offset="0.5283" stop-color="#ff0000"/><stop offset="0.5361" stop-color="#ff0000"/><stop offset="0.5440" stop-color="#ff0000"/><stop offset="0.5519" stop-color="#ff0000"/><stop offset="0.5598" stop-color="#ff0000"/><stop offset="0.5677" stop-color="#ff0000"/><stop offset="0.5756" stop-color="#ff0000"/><stop offset="0.5834" stop-color="#ff0000"/><stop offset="0.5913" stop-color="#ff0000"/><stop offset="0.5992" stop-color="#ff0000"/><stop offset="0.6071" stop-color="#ff0000"/><stop offset="0.6150" stop-color="#ff0000"/><stop offset="0.6229" stop-color="#ff0000"/><stop offset="0.6307" stop-color="#ff0000"/><stop offset="0.6360" stop-color="#ff0000"/><stop offset="0.6386" stop-color="#ff0403"/><stop offset="0.6465" stop-color="#ff0e0c"/><stop offset="0.6544" stop-color="#ff1814"/><stop offset="0.6623" stop-color="#ff231d"/><stop offset="0.6702" stop-color="#ff2e26"/><stop offset="0.6781" stop-color="#ff382f"/><stop offset="0.6859" stop-color="#ff4133"/><stop offset="0.6938" stop-color="#ff4a35"/><stop offset="0.6991" stop-color="#ff5036"/><stop offset="0.7017" stop-color="#ff5236"/><stop offset="0.7096" stop-color="#ff5a38"/><stop offset="0.7175" stop-color="#ff623a"/><stop offset="0.7254" stop-color="#ff693b"/><stop offset="0.7332" stop-color="#ff703b"/><stop offset="0.7411" stop-color="#ff7839"/><stop offset="0.7490" stop-color="#ff7f37"/><stop offset="0.7569" stop-color="#ff8734"/><stop offset="0.7648" stop-color="#ff8f32"/><stop offset="0.7727" stop-color="#ff9630"/><stop offset="0.7806" stop-color="#ff9b2f"/><stop offset="0.7884" stop-color="#ffa02d"/><stop offset="0.7963" stop-color="#ffa429"/><stop offset="0.8042" stop-color="#ffa824"/><stop offset="0.8121" stop-color="#ffad20"/><stop offset="0.8200" stop-color="#ffb11b"/><stop offset="0.8279" stop-color="#ffb517"/><stop offset="0.8305" stop-color="#ffb716"/><stop offset="0.8357" stop-color="#ffba12"/><stop offset="0.8436" stop-color="#ffbf0d"/><stop offset="0.8502" stop-color="#ffc309"/><stop offset="0.8515" stop-color="#ffc507"/><stop offset="0.8594" stop-color="#ffce0b"/><stop offset="0.8607" stop-color="#ffcf0f"/><stop offset="0.8673" stop-color="#ffd528"/><stop offset="0.8752" stop-color="#ffdb46"/><stop offset="0.8830" stop-color="#ffe164"/><stop offset="0.8844" stop-color="#ffe269"/><stop offset="0.8909" stop-color="#ffe98c"/><stop offset="0.8988" stop-color="#fff0b2"/><stop offset="0.9041" stop-color="#fff5ca"/><stop offset="0.9067" stop-color="#fff6d2"/><stop offset="0.9146" stop-color="#fff9e2"/><stop offset="0.9225" stop-color="#fffcf1"/><stop offset="0.9304" stop-color="#ffffff"/><stop offset="0.9382" stop-color="#ffffff"/><stop offset="0.9461" stop-color="#ffffff"/><stop offset="0.9540" stop-color="#ffffff"/><stop offset="0.9619" stop-color="#ffffff"/><stop offset="0.9698" stop-color="#ffffff"/><stop offset="0.9777" stop-color="#ffffff"/><stop offset="0.9855" stop-color="#ffffff"/><stop offset="0.9934" stop-color="#ffffff"/></linearGradient><linearGradient id="g11" gradientUnits="userSpaceOnUse" x1="0" y1="36.0" x2="0" y2="416.5"><stop offset="0.0000" stop-color="#ff0000"/><stop offset="0.0079" stop-color="#ff0000"/><stop offset="0.0158" stop-color="#ff0000"/><stop offset="0.0237" stop-color="#ff0000"/><stop offset="0.0315" stop-color="#ff0000"/><stop offset="0.0394" stop-color="#ff0000"/><stop offset="0.0473" stop-color="#ff0000"/><stop offset="0.0552" stop-color="#ff0000"/><stop offset="0.0631" stop-color="#ff0000"/><stop offset="0.0710" stop-color="#ff0000"/><stop offset="0.0788" stop-color="#ff0000"/><stop offset="0.0867" stop-color="#ff0000"/><stop offset="0.0946" stop-color="#ff0000"/><stop offset="0.1025" stop-color="#ff0000"/><stop offset="0.1104" stop-color="#ff0000"/><stop offset="0.1183" stop-color="#ff0000"/><stop offset="0.1261" stop-color="#ff0000"/><stop offset="0.1340" stop-color="#ff0000"/><stop offset="0.1419" stop-color="#ff0000"/><stop offset="0.1498" stop-color="#ff0000"/><stop offset="0.1577" stop-color="#ff0000"/><stop offset="0.1656" stop-color="#ff0000"/><stop offset="0.1735" stop-color="#ff0000"/><stop offset="0.1813" stop-color="#ff0000"/><stop offset="0.1892" stop-color="#ff0000"/><stop offset="0.1971" stop-color="#ff0000"/><stop offset="0.2050" stop-color="#ff0000"/><stop offset="0.2129" stop-color="#ff0000"/><stop offset="0.2208" stop-color="#ff0000"/><stop offset="0.2286" stop-color="#ff0000"/><stop offset="0.2365" stop-color="#ff0000"/><stop offset="0.2444" stop-color="#ff0000"/><stop offset="0.2523" stop-color="#ff0000"/><stop offset="0.2602" stop-color="#ff0000"/><stop offset="0.2681" stop-color="#ff0000"/><stop offset="0.2760" stop-color="#ff0000"/><stop offset="0.2838" stop-color="#ff0000"/><stop offset="0.2917" stop-color="#ff0000"/><stop offset="0.2996" stop-color="#ff0000"/><stop offset="0.3075" stop-color="#ff0000"/><stop offset="0.3154" stop-color="#ff0000"/><stop offset="0.3233" stop-color="#ff0000"/><stop offset="0.3311" stop-color="#ff0000"/><stop offset="0.3390" stop-color="#ff0000"/><stop offset="0.3469" stop-color="#ff0000"/><stop offset="0.3548" stop-color="#ff0000"/><stop offset="0.3627" stop-color="#ff0000"/><stop offset="0.3706" stop-color="#ff0000"/><stop offset="0.3784" stop-color="#ff0000"/><stop offset="0.3863" stop-color="#ff0000"/><stop offset="0.3942" stop-color="#ff0000"/><stop offset="0.4021" stop-color="#ff0000"/><stop offset="0.4100" stop-color="#ff0000"/><stop offset="0.4179" stop-color="#ff0000"/><stop offset="0.4258" stop-color="#ff0000"/><stop offset="0.4336" stop-color="#ff0000"/><stop offset="0.4415" stop-color="#ff0000"/><stop offset="0.4494" stop-color="#ff0000"/><stop offset="0.4573" stop-color="#ff0000"/><stop offset="0.4652" stop-color="#ff0000"/><stop offset="0.4731" stop-color="#ff0000"/><stop offset="0.4809" stop-color="#ff0000"/><stop offset="0.4888" stop-color="#ff0000"/><stop offset="0.4967" stop-color="#ff0000"/><stop offset="0.5046" stop-color="#ff0000"/><stop offset="0.5125" stop-color="#ff0000"/><stop offset="0.5204" stop-color="#ff0000"/><stop offset="0.5283" stop-color="#ff0000"/><stop offset="0.5361" stop-color="#ff0000"/><stop offset="0.5440" stop-color="#ff0000"/><stop offset="0.5519" stop-color="#ff0000"/><stop offset="0.5598" stop-color="#ff0000"/><stop offset="0.5677" stop-color="#ff0000"/><stop offset="0.5756" stop-color="#ff0000"/><stop offset="0.5834" stop-color="#ff0000"/><stop offset="0.5913" stop-color="#ff0000"/><stop offset="0.5992" stop-color="#ff0000"/><stop offset="0.6071" stop-color="#ff0000"/><stop offset="0.6150" stop-color="#ff0908"/><stop offset="0.6229" stop-color="#ff120f"/><stop offset="0.6307" stop-color="#ff1b17"/><stop offset="0.6386" stop-color="#ff251f"/><stop offset="0.6465" stop-color="#ff2e26"/><stop offset="0.6544" stop-color="#ff372e"/><stop offset="0.6623" stop-color="#ff3f33"/><stop offset="0.6649" stop-color="#ff4233"/><stop offset="0.6702" stop-color="#ff4734"/><stop offset="0.6781" stop-color="#ff4e36"/><stop offset="0.6859" stop-color="#ff5537"/><stop offset="0.6938" stop-color="#ff5b38"/><stop offset="0.7017" stop-color="#ff623a"/><stop offset="0.7096" stop-color="#ff693b"/><stop offset="0.7148" stop-color="#ff6e3c"/><stop offset="0.7175" stop-color="#ff703b"/><stop offset="0.7254" stop-color="#ff7739"/><stop offset="0.7332" stop-color="#ff7e37"/><stop offset="0.7411" stop-color="#ff8535"/><stop offset="0.7490" stop-color="#ff8c33"/><stop offset="0.7569" stop-color="#ff9231"/><stop offset="0.7648" stop-color="#ff992f"/><stop offset="0.7727" stop-color="#ffa02d"/><stop offset="0.7806" stop-color="#ffa429"/><stop offset="0.7884" stop-color="#ffa726"/><stop offset="0.7963" stop-color="#ffab22"/><stop offset="0.8042" stop-color="#ffae1e"/><stop offset="0.8121" stop-color="#ffb21b"/><stop offset="0.8200" stop-color="#ffb617"/><stop offset="0.8279" stop-color="#ffb913"/><stop offset="0.8305" stop-color="#ffba12"/><stop offset="0.8357" stop-color="#ffbd10"/><stop offset="0.8436" stop-color="#ffc00c"/><stop offset="0.8502" stop-color="#ffc309"/><stop offset="0.8515" stop-color="#ffc408"/><stop offset="0.8594" stop-color="#ffca02"/><stop offset="0.8620" stop-color="#ffcc00"/><stop offset="0.8673" stop-color="#ffcf0e"/><stop offset="0.8752" stop-color="#ffd322"/><stop offset="0.8830" stop-color="#ffd837"/><stop offset="0.8909" stop-color="#ffdc4b"/><stop offset="0.8988" stop-color="#ffe166"/><stop offset="0.9067" stop-color="#ffe781"/><stop offset="0.9146" stop-color="#ffec9b"/><stop offset="0.9172" stop-color="#ffeda3"/><stop offset="0.9225" stop-color="#fff0b3"/><stop offset="0.9304" stop-color="#fff5ca"/><stop offset="0.9382" stop-color="#fff8dd"/><stop offset="0.9435" stop-color="#fffae7"/><stop offset="0.9461" stop-color="#fffbeb"/><stop offset="0.9540" stop-color="#fffdf7"/><stop offset="0.9593" stop-color="#ffffff"/><stop offset="0.9619" stop-color="#ffffff"/><stop offset="0.9698" stop-color="#ffffff"/><stop offset="0.9777" stop-color="#ffffff"/><stop offset="0.9855" stop-color="#ffffff"/><stop offset="0.9934" stop-color="#ffffff"/></linearGradient><linearGradient id="g12" gradientUnits="userSpaceOnUse" x1="0" y1="36.0" x2="0" y2="416.5"><stop offset="0.0000" stop-color="#ff0000"/><stop offset="0.0079" stop-color="#ff0000"/><stop offset="0.0158" stop-color="#ff0000"/><stop offset="0.0237" stop-color="#ff0000"/><stop offset="0.0315" stop-color="#ff0000"/><stop offset="0.0394" stop-color="#ff0000"/><stop offset="0.0473" stop-color="#ff0000"/><stop offset="0.0552" stop-color="#ff0000"/><stop offset="0.0631" stop-color="#ff0000"/><stop offset="0.0710" stop-color="#ff0000"/><stop offset="0.0788" stop-color="#ff0000"/><stop offset="0.0867" stop-color="#ff0000"/><stop offset="0.0946" stop-color="#ff0000"/><stop offset="0.1025" stop-color="#ff0000"/><stop offset="0.1104" stop-color="#ff0000"/><stop offset="0.1183" stop-color="#ff0000"/><stop offset="0.1261" stop-color="#ff0000"/><stop offset="0.1340" stop-color="#ff0000"/><stop offset="0.1419" stop-color="#ff0000"/><stop offset="0.1498" stop-color="#ff0000"/><stop offset="0.1577" stop-color="#ff0000"/><stop offset="0.1656" stop-color="#ff0000"/><stop offset="0.1735" stop-color="#ff0000"/><stop offset="0.1813" stop-color="#ff0000"/><stop offset="0.1892" stop-color="#ff0000"/><stop offset="0.1971" stop-color="#ff0000"/><stop offset="0.2050" stop-color="#ff0000"/><stop offset="0.2129" stop-color="#ff0000"/><stop offset="0.2208" stop-color="#ff0000"/><stop offset="0.2286" stop-color="#ff0000"/><stop offset="0.2365" stop-color="#ff0000"/><stop offset="0.2444" stop-color="#ff0000"/><stop offset="0.2523" stop-color="#ff0000"/><stop offset="0.2602" stop-color="#ff0000"/><stop offset="0.2681" stop-color="#ff0000"/><stop offset="0.2760" stop-color="#ff0000"/><stop offset="0.2838" stop-color="#ff0000"/><stop offset="0.2917" stop-color="#ff0000"/><stop offset="0.2996" stop-color="#ff0000"/><stop offset="0.3075" stop-color="#ff0000"/><stop offset="0.3154" stop-color="#ff0000"/><stop offset="0.3233" stop-color="#ff0000"/><stop offset="0.3311" stop-color="#ff0000"/><stop offset="0.3390" stop-color="#ff0000"/><stop offset="0.3469" stop-color="#ff0000"/><stop offset="0.3548" stop-color="#ff0000"/><stop offset="0.3627" stop-color="#ff0000"/><stop offset="0.3706" stop-color="#ff0000"/><stop offset="0.3784" stop-color="#ff0000"/><stop offset="0.3863" stop-color="#ff0000"/><stop offset="0.3942" stop-color="#ff0000"/><stop offset="0.4021" stop-color="#ff0000"/><stop offset="0.4100" stop-color="#ff0000"/><stop offset="0.4179" stop-color="#ff0000"/><stop offset="0.4258" stop-color="#ff0000"/><stop offset="0.4336" stop-color="#ff0000"/><stop offset="0.4415" stop-color="#ff0000"/><stop offset="0.4494" stop-color="#ff0000"/><stop offset="0.4573" stop-color="#ff0000"/><stop offset="0.4652" stop-color="#ff0000"/><stop offset="0.4731" stop-color="#ff0000"/><stop offset="0.4809" stop-color="#ff0000"/><stop offset="0.4888" stop-color="#ff0000"/><stop offset="0.4967" stop-color="#ff0000"/><stop offset="0.5046" stop-color="#ff0000"/><stop offset="0.5125" stop-color="#ff0000"/><stop offset="0.5204" stop-color="#ff0000"/><stop offset="0.5283" stop-color="#ff0908"/><stop offset="0.5361" stop-color="#ff120f"/><stop offset="0.5440" stop-color="#ff1b17"/><stop offset="0.5519" stop-color="#ff251f"/><stop offset="0.5598" stop-color="#ff2e26"/><stop offset="0.5677" stop-color="#ff372e"/><stop offset="0.5756" stop-color="#ff3f33"/><stop offset="0.5782" stop-color="#ff4233"/><stop offset="0.5834" stop-color="#ff4834"/><stop offset="0.5913" stop-color="#ff5036"/><stop offset="0.5992" stop-color="#ff5938"/><stop offset="0.6071" stop-color="#ff6139"/><stop offset="0.6150" stop-color="#ff6a3b"/><stop offset="0.6229" stop-color="#ff723b"/><stop offset="0.6281" stop-color="#ff7839"/><stop offset="0.6307" stop-color="#ff7b38"/><stop offset="0.6386" stop-color="#ff8336"/><stop offset="0.6465" stop-color="#ff8c33"/><stop offset="0.6544" stop-color="#ff9530"/><stop offset="0.6623" stop-color="#ff9d2e"/><stop offset="0.6649" stop-color="#ffa02d"/><stop offset="0.6702" stop-color="#ffa32a"/><stop offset="0.6781" stop-color="#ffa825"/><stop offset="0.6859" stop-color="#ffad20"/><stop offset="0.6938" stop-color="#ffb11b"/><stop offset="0.7017" stop-color="#ffb616"/><stop offset="0.7096" stop-color="#ffbb12"/><stop offset="0.7148" stop-color="#ffbe0e"/><stop offset="0.7175" stop-color="#ffbf0e"/><stop offset="0.7254" stop-color="#ffc10b"/><stop offset="0.7332" stop-color="#ffc309"/><stop offset="0.7411" stop-color="#ffc606"/><stop offset="0.7490" stop-color="#ffc804"/><stop offset="0.7569" stop-color="#ffca02"/><stop offset="0.7622" stop-color="#ffcc00"/><stop offset="0.7648" stop-color="#ffcc00"/><stop offset="0.7727" stop-color="#ffcc00"/><stop offset="0.7806" stop-color="#ffcc00"/><stop offset="0.7884" stop-color="#ffcc00"/><stop offset="0.7963" stop-color="#ffcc00"/><stop offset="0.8042" stop-color="#ffcc00"/><stop offset="0.8121" stop-color="#ffcc00"/><stop offset="0.8200" stop-color="#ffcc00"/><stop offset="0.8279" stop-color="#ffcc00"/><stop offset="0.8357" stop-color="#ffcc00"/><stop offset="0.8436" stop-color="#ffcc00"/><stop offset="0.8502" stop-color="#ffcc00"/><stop offset="0.8515" stop-color="#ffd115"/><stop offset="0.8594" stop-color="#ffeb96"/><stop offset="0.8673" stop-color="#ffeea8"/><stop offset="0.8752" stop-color="#fff2b9"/><stop offset="0.8830" stop-color="#fff5cb"/><stop offset="0.8909" stop-color="#fff8db"/><stop offset="0.8988" stop-color="#fffae6"/><stop offset="0.9067" stop-color="#fffcf0"/><stop offset="0.9146" stop-color="#fffefb"/><stop offset="0.9172" stop-color="#ffffff"/><stop offset="0.9225" stop-color="#ffffff"/><stop offset="0.9304" stop-color="#ffffff"/><stop offset="0.9382" stop-color="#ffffff"/><stop offset="0.9461" stop-color="#ffffff"/><stop offset="0.9540" stop-color="#ffffff"/><stop offset="0.9619" stop-color="#ffffff"/><stop offset="0.9698" stop-color="#ffffff"/><stop offset="0.9777" stop-color="#ffffff"/><stop offset="0.9855" stop-color="#ffffff"/><stop offset="0.9934" stop-color="#ffffff"/></linearGradient><linearGradient id="g13" gradientUnits="userSpaceOnUse" x1="0" y1="36.0" x2="0" y2="416.5"><stop offset="0.0000" stop-color="#ff0000"/><stop offset="0.0079" stop-color="#ff0000"/><stop offset="0.0158" stop-color="#ff0000"/><stop offset="0.0237" stop-color="#ff0000"/><stop offset="0.0315" stop-color="#ff0000"/><stop offset="0.0394" stop-color="#ff0000"/><stop offset="0.0473" stop-color="#ff0000"/><stop offset="0.0552" stop-color="#ff0000"/><stop offset="0.0631" stop-color="#ff0000"/><stop offset="0.0710" stop-color="#ff0000"/><stop offset="0.0788" stop-color="#ff0000"/><stop offset="0.0867" stop-color="#ff0000"/><stop offset="0.0946" stop-color="#ff0000"/><stop offset="0.1025" stop-color="#ff0000"/><stop offset="0.1104" stop-color="#ff0000"/><stop offset="0.1183" stop-color="#ff0000"/><stop offset="0.1261" stop-color="#ff0000"/><stop offset="0.1340" stop-color="#ff0000"/><stop offset="0.1419" stop-color="#ff0000"/><stop offset="0.1498" stop-color="#ff0000"/><stop offset="0.1577" stop-color="#ff0000"/><stop offset="0.1656" stop-color="#ff0000"/><stop offset="0.1735" stop-color="#ff0000"/><stop offset="0.1813" stop-color="#ff0000"/><stop offset="0.1892" stop-color="#ff0000"/><stop offset="0.1971" stop-color="#ff0000"/><stop offset="0.2050" stop-color="#ff0000"/><stop offset="0.2129" stop-color="#ff0000"/><stop offset="0.2208" stop-color="#ff0000"/><stop offset="0.2286" stop-color="#ff0000"/><stop offset="0.2365" stop-color="#ff0000"/><stop offset="0.2444" stop-color="#ff0000"/><stop offset="0.2523" stop-color="#ff0000"/><stop offset="0.2602" stop-color="#ff0000"/><stop offset="0.2681" stop-color="#ff0000"/><stop offset="0.2760" stop-color="#ff0000"/><stop offset="0.2838" stop-color="#ff0000"/><stop offset="0.2917" stop-color="#ff0000"/><stop offset="0.2996" stop-color="#ff0000"/><stop offset="0.3075" stop-color="#ff0000"/><stop offset="0.3154" stop-color="#ff0000"/><stop offset="0.3233" stop-color="#ff0000"/><stop offset="0.3311" stop-color="#ff0000"/><stop offset="0.3377" stop-color="#ff0000"/><stop offset="0.3390" stop-color="#ff0201"/><stop offset="0.3469" stop-color="#ff0c0a"/><stop offset="0.3548" stop-color="#ff1612"/><stop offset="0.3627" stop-color="#ff1f1a"/><stop offset="0.3706" stop-color="#ff2922"/><stop offset="0.3758" stop-color="#ff3028"/><stop offset="0.3784" stop-color="#ff342b"/><stop offset="0.3863" stop-color="#ff4033"/><stop offset="0.3942" stop-color="#ff4a35"/><stop offset="0.4021" stop-color="#ff5437"/><stop offset="0.4100" stop-color="#ff5f39"/><stop offset="0.4142" stop-color="#ff643a"/><stop offset="0.4179" stop-color="#ff693b"/><stop offset="0.4258" stop-color="#ff733a"/><stop offset="0.4336" stop-color="#ff7e37"/><stop offset="0.4415" stop-color="#ff8834"/><stop offset="0.4494" stop-color="#ff9331"/><stop offset="0.4520" stop-color="#ff9630"/><stop offset="0.4573" stop-color="#ff9b2e"/><stop offset="0.4652" stop-color="#ffa32a"/><stop offset="0.4731" stop-color="#ffaa22"/><stop offset="0.4809" stop-color="#ffb21b"/><stop offset="0.4888" stop-color="#ffb914"/><stop offset="0.4907" stop-color="#ffba12"/><stop offset="0.4967" stop-color="#ffbe0e"/><stop offset="0.5046" stop-color="#ffc30a"/><stop offset="0.5125" stop-color="#ffc705"/><stop offset="0.5204" stop-color="#ffcc00"/><stop offset="0.5283" stop-color="#ffcd03"/><stop offset="0.5361" stop-color="#ffcd06"/><stop offset="0.5440" stop-color="#ffcf0d"/><stop offset="0.5519" stop-color="#ffd014"/><stop offset="0.5598" stop-color="#ffd21c"/><stop offset="0.5624" stop-color="#ffd21e"/><stop offset="0.5677" stop-color="#ffd425"/><stop offset="0.5756" stop-color="#ffd630"/><stop offset="0.5834" stop-color="#ffd83a"/><stop offset="0.5913" stop-color="#ffdb45"/><stop offset="0.5992" stop-color="#ffdd50"/><stop offset="0.6071" stop-color="#ffdf5b"/><stop offset="0.6150" stop-color="#ffe165"/><stop offset="0.6176" stop-color="#ffe269"/><stop offset="0.6229" stop-color="#ffe36f"/><stop offset="0.6307" stop-color="#ffe577"/><stop offset="0.6386" stop-color="#ffe780"/><stop offset="0.6452" stop-color="#ffe887"/><stop offset="0.6465" stop-color="#ffe889"/><stop offset="0.6544" stop-color="#ffea93"/><stop offset="0.6623" stop-color="#ffec9c"/><stop offset="0.6702" stop-color="#ffeea5"/><stop offset="0.6728" stop-color="#ffeea8"/><stop offset="0.6781" stop-color="#ffefae"/><stop offset="0.6859" stop-color="#fff1b6"/><stop offset="0.6938" stop-color="#fff3bf"/><stop offset="0.6991" stop-color="#fff4c5"/><stop offset="0.7017" stop-color="#fff4c8"/><stop offset="0.7096" stop-color="#fff6d1"/><stop offset="0.7175" stop-color="#fff7d8"/><stop offset="0.7254" stop-color="#fff8de"/><stop offset="0.7269" stop-color="#fff9df"/><stop offset="0.7332" stop-color="#fffae5"/><stop offset="0.7411" stop-color="#fffbeb"/><stop offset="0.7490" stop-color="#fffcf2"/><stop offset="0.7543" stop-color="#fffdf7"/><stop offset="0.7569" stop-color="#fffef9"/><stop offset="0.7648" stop-color="#fffffd"/><stop offset="0.7674" stop-color="#ffffff"/><stop offset="0.7727" stop-color="#ffffff"/><stop offset="0.7806" stop-color="#ffffff"/><stop offset="0.7884" stop-color="#ffffff"/><stop offset="0.7963" stop-color="#ffffff"/><stop offset="0.8042" stop-color="#ffffff"/><stop offset="0.8121" stop-color="#ffffff"/><stop offset="0.8200" stop-color="#ffffff"/><stop offset="0.8279" stop-color="#ffffff"/><stop offset="0.8357" stop-color="#ffffff"/><stop offset="0.8436" stop-color="#ffffff"/><stop offset="0.8515" stop-color="#ffffff"/><stop offset="0.8594" stop-color="#ffffff"/><stop offset="0.8673" stop-color="#ffffff"/><stop offset="0.8752" stop-color="#ffffff"/><stop offset="0.8830" stop-color="#ffffff"/><stop offset="0.8909" stop-color="#ffffff"/><stop offset="0.8988" stop-color="#ffffff"/><stop offset="0.9067" stop-color="#ffffff"/><stop offset="0.9146" stop-color="#ffffff"/><stop offset="0.9225" stop-color="#ffffff"/><stop offset="0.9304" stop-color="#ffffff"/><stop offset="0.9382" stop-color="#ffffff"/><stop offset="0.9461" stop-color="#ffffff"/><stop offset="0.9540" stop-color="#ffffff"/><stop offset="0.9619" stop-color="#ffffff"/><stop offset="0.9698" stop-color="#ffffff"/><stop offset="0.9777" stop-color="#ffffff"/><stop offset="0.9855" stop-color="#ffffff"/><stop offset="0.9934" stop-color="#ffffff"/></linearGradient><linearGradient id="g14" gradientUnits="userSpaceOnUse" x1="0" y1="36.0" x2="0" y2="416.5"><stop offset="0.0000" stop-color="#ff0000"/><stop offset="0.0079" stop-color="#ff0000"/><stop offset="0.0158" stop-color="#ff0000"/><stop offset="0.0237" stop-color="#ff0000"/><stop offset="0.0315" stop-color="#ff0000"/><stop offset="0.0394" stop-color="#ff0000"/><stop offset="0.0473" stop-color="#ff0000"/><stop offset="0.0552" stop-color="#ff0000"/><stop offset="0.0631" stop-color="#ff0000"/><stop offset="0.0710" stop-color="#ff0000"/><stop offset="0.0788" stop-color="#ff0000"/><stop offset="0.0867" stop-color="#ff0000"/><stop offset="0.0946" stop-color="#ff0000"/><stop offset="0.1025" stop-color="#ff0000"/><stop offset="0.1104" stop-color="#ff0000"/><stop offset="0.1183" stop-color="#ff0000"/><stop offset="0.1261" stop-color="#ff0504"/><stop offset="0.1340" stop-color="#ff0908"/><stop offset="0.1419" stop-color="#ff0e0c"/><stop offset="0.1498" stop-color="#ff1310"/><stop offset="0.1577" stop-color="#ff1714"/><stop offset="0.1656" stop-color="#ff1c17"/><stop offset="0.1735" stop-color="#ff211b"/><stop offset="0.1813" stop-color="#ff261f"/><stop offset="0.1892" stop-color="#ff2a23"/><stop offset="0.1971" stop-color="#ff2f27"/><stop offset="0.2050" stop-color="#ff342b"/><stop offset="0.2129" stop-color="#ff382f"/><stop offset="0.2208" stop-color="#ff3d32"/><stop offset="0.2286" stop-color="#ff4133"/><stop offset="0.2365" stop-color="#ff4534"/><stop offset="0.2444" stop-color="#ff4935"/><stop offset="0.2523" stop-color="#ff4d35"/><stop offset="0.2602" stop-color="#ff5036"/><stop offset="0.2681" stop-color="#ff5437"/><stop offset="0.2760" stop-color="#ff5838"/><stop offset="0.2838" stop-color="#ff5c38"/><stop offset="0.2917" stop-color="#ff6039"/><stop offset="0.2996" stop-color="#ff643a"/><stop offset="0.3075" stop-color="#ff693b"/><stop offset="0.3154" stop-color="#ff6d3c"/><stop offset="0.3233" stop-color="#ff723b"/><stop offset="0.3311" stop-color="#ff763a"/><stop offset="0.3390" stop-color="#ff7b38"/><stop offset="0.3469" stop-color="#ff7f37"/><stop offset="0.3548" stop-color="#ff8435"/><stop offset="0.3627" stop-color="#ff8834"/><stop offset="0.3706" stop-color="#ff8d33"/><stop offset="0.3758" stop-color="#ff9032"/><stop offset="0.3784" stop-color="#ff9231"/><stop offset="0.3863" stop-color="#ff9630"/><stop offset="0.3942" stop-color="#ff9b2e"/><stop offset="0.4021" stop-color="#ffa02d"/><stop offset="0.4100" stop-color="#ffa429"/><stop offset="0.4179" stop-color="#ffa825"/><stop offset="0.4258" stop-color="#ffac20"/><stop offset="0.4336" stop-color="#ffb11c"/><stop offset="0.4415" stop-color="#ffb518"/><stop offset="0.4494" stop-color="#ffb913"/><stop offset="0.4520" stop-color="#ffba12"/><stop offset="0.4573" stop-color="#ffbc10"/><stop offset="0.4652" stop-color="#ffbf0e"/><stop offset="0.4731" stop-color="#ffc10b"/><stop offset="0.4809" stop-color="#ffc408"/><stop offset="0.4888" stop-color="#ffc705"/><stop offset="0.4967" stop-color="#ffc903"/><stop offset="0.5046" stop-color="#ffcc00"/><stop offset="0.5125" stop-color="#ffcc00"/><stop offset="0.5204" stop-color="#ffcc00"/><stop offset="0.5283" stop-color="#ffcc00"/><stop offset="0.5361" stop-color="#ffcc00"/><stop offset="0.5440" stop-color="#ffcc00"/><stop offset="0.5519" stop-color="#ffcc00"/><stop offset="0.5598" stop-color="#ffcc00"/><stop offset="0.5677" stop-color="#ffcc00"/><stop offset="0.5756" stop-color="#ffcc00"/><stop offset="0.5834" stop-color="#ffcc00"/><stop offset="0.5861" stop-color="#ffcc00"/><stop offset="0.5913" stop-color="#ffcd06"/><stop offset="0.5992" stop-color="#ffcf0f"/><stop offset="0.6071" stop-color="#ffd119"/><stop offset="0.6150" stop-color="#ffd322"/><stop offset="0.6229" stop-color="#ffd52b"/><stop offset="0.6244" stop-color="#ffd62d"/><stop offset="0.6307" stop-color="#ffd837"/><stop offset="0.6386" stop-color="#ffda43"/><stop offset="0.6465" stop-color="#ffdd50"/><stop offset="0.6544" stop-color="#ffe05c"/><stop offset="0.6623" stop-color="#ffe269"/><stop offset="0.6702" stop-color="#ffe472"/><stop offset="0.6781" stop-color="#ffe67b"/><stop offset="0.6859" stop-color="#ffe885"/><stop offset="0.6938" stop-color="#ffe98e"/><stop offset="0.7009" stop-color="#ffeb96"/><stop offset="0.7017" stop-color="#ffeb97"/><stop offset="0.7096" stop-color="#ffeda2"/><stop offset="0.7175" stop-color="#ffefad"/><stop offset="0.7254" stop-color="#fff1b8"/><stop offset="0.7332" stop-color="#fff3c3"/><stop offset="0.7385" stop-color="#fff5ca"/><stop offset="0.7411" stop-color="#fff5cc"/><stop offset="0.7490" stop-color="#fff6d2"/><stop offset="0.7569" stop-color="#fff7d8"/><stop offset="0.7648" stop-color="#fff8dc"/><stop offset="0.7727" stop-color="#fff9e0"/><stop offset="0.7779" stop-color="#fff9e2"/><stop offset="0.7806" stop-color="#fff9e3"/><stop offset="0.7884" stop-color="#fffae5"/><stop offset="0.7963" stop-color="#fffae7"/><stop offset="0.8042" stop-color="#fffbe9"/><stop offset="0.8121" stop-color="#fffbeb"/><stop offset="0.8147" stop-color="#fffbec"/><stop offset="0.8200" stop-color="#fffbec"/><stop offset="0.8279" stop-color="#fffbed"/><stop offset="0.8357" stop-color="#fffcee"/><stop offset="0.8436" stop-color="#fffcee"/><stop offset="0.8502" stop-color="#fffcef"/><stop offset="0.8515" stop-color="#fffcf1"/><stop offset="0.8594" stop-color="#ffffff"/><stop offset="0.8673" stop-color="#ffffff"/><stop offset="0.8752" stop-color="#ffffff"/><stop offset="0.8830" stop-color="#ffffff"/><stop offset="0.8909" stop-color="#ffffff"/><stop offset="0.8988" stop-color="#ffffff"/><stop offset="0.9067" stop-color="#ffffff"/><stop offset="0.9146" stop-color="#ffffff"/><stop offset="0.9225" stop-color="#ffffff"/><stop offset="0.9304" stop-color="#ffffff"/><stop offset="0.9382" stop-color="#ffffff"/><stop offset="0.9461" stop-color="#ffffff"/><stop offset="0.9540" stop-color="#ffffff"/><stop offset="0.9619" stop-color="#ffffff"/><stop offset="0.9698" stop-color="#ffffff"/><stop offset="0.9777" stop-color="#ffffff"/><stop offset="0.9855" stop-color="#ffffff"/><stop offset="0.9934" stop-color="#ffffff"/></linearGradient></defs>
<rect x="18.5" y="32.0" width="60" height="387.9" fill="#000"/><rect x="21.9" y="36.0" width="53.2" height="380.5" fill="url(#g00)"/><rect x="20.5" y="359.75" width="56" height="3.85" fill="#000"/><text x="48.50" y="54.50" class="bt">Risks to</text><text x="48.50" y="65.50" class="bt">Many</text><text x="48.50" y="340.00" class="bb">Risks to</text><text x="48.50" y="351.00" class="bb">Some</text><text x="48.50" y="430.00" class="u">Risks to</text><text x="48.50" y="441.25" class="u">Unique</text><text x="48.50" y="452.50" class="u2">and</text><text x="48.50" y="463.75" class="u2">Threatened</text><text x="48.50" y="475.00" class="u2">Systems</text><rect x="87.5" y="32.0" width="60" height="387.9" fill="#000"/><rect x="90.9" y="36.0" width="53.2" height="380.5" fill="url(#g01)"/><rect x="89.5" y="359.75" width="56" height="3.85" fill="#000"/><text x="117.50" y="54.50" class="bt">Large</text><text x="117.50" y="65.50" class="bt">Increase</text><text x="117.50" y="351.00" class="bb">Increase</text><text x="117.50" y="430.00" class="u">Risk of</text><text x="117.50" y="441.25" class="u">Extreme</text><text x="117.50" y="452.50" class="u2">Weather</text><text x="117.50" y="463.75" class="u2">Events</text><rect x="156.5" y="32.0" width="60" height="387.9" fill="#000"/><rect x="159.9" y="36.0" width="53.2" height="380.5" fill="url(#g02)"/><rect x="158.5" y="359.75" width="56" height="3.85" fill="#000"/><text x="186.50" y="54.50" class="bt">Negative</text><text x="186.50" y="65.50" class="bt">for Most</text><text x="186.50" y="76.50" class="bt">Regions</text><text x="186.50" y="296.00" class="bb">Negative</text><text x="186.50" y="307.00" class="bb">for Some</text><text x="186.50" y="318.00" class="bb">Regions;</text><text x="186.50" y="329.00" class="bb">Positive</text><text x="186.50" y="340.00" class="bb">for</text><text x="186.50" y="351.00" class="bb">Others</text><text x="186.50" y="430.00" class="u">Distribution</text><text x="186.50" y="441.25" class="u">of Impacts</text><rect x="225.5" y="32.0" width="60" height="387.9" fill="#000"/><rect x="228.9" y="36.0" width="53.2" height="380.5" fill="url(#g03)"/><rect x="227.5" y="359.75" width="56" height="3.85" fill="#000"/><text x="255.50" y="54.50" class="bt">Net</text><text x="255.50" y="65.50" class="bt">Negative</text><text x="255.50" y="76.50" class="bt">in All</text><text x="255.50" y="87.50" class="bt">Metrics</text><text x="255.50" y="274.00" class="bb">Positive or</text><text x="255.50" y="285.00" class="bb">Negative</text><text x="255.50" y="296.00" class="bb">Market</text><text x="255.50" y="307.00" class="bb">Impacts:</text><text x="255.50" y="318.00" class="bb">Majority</text><text x="255.50" y="329.00" class="bb">of People</text><text x="255.50" y="340.00" class="bb">Adversely</text><text x="255.50" y="351.00" class="bb">Affected</text><text x="255.50" y="430.00" class="u">Aggregate</text><text x="255.50" y="441.25" class="u">Impacts</text><rect x="294.5" y="32.0" width="60" height="387.9" fill="#000"/><rect x="297.9" y="36.0" width="53.2" height="380.5" fill="url(#g04)"/><rect x="296.5" y="359.75" width="56" height="3.85" fill="#000"/><text x="324.50" y="54.50" class="bt">Higher</text><text x="324.50" y="340.00" class="bb">Very</text><text x="324.50" y="351.00" class="bb">Low</text><text x="324.50" y="430.00" class="u">Risks of Large</text><text x="324.50" y="441.25" class="u">Scale</text><text x="324.50" y="452.50" class="u2">Discontinuities</text><rect x="379.0" y="32.0" width="60" height="387.9" fill="#000"/><rect x="382.4" y="36.0" width="53.2" height="380.5" fill="url(#g10)"/><rect x="381.0" y="359.75" width="56" height="3.85" fill="#000"/><text x="408.70" y="55.10" class="bt">Risks to</text><text x="408.70" y="66.40" class="bt">Many</text><text x="408.70" y="340.00" class="bb">Risks to</text><text x="408.70" y="351.00" class="bb">Some</text><text x="408.70" y="430.70" class="u">Risks to</text><text x="408.70" y="442.00" class="u">Unique</text><text x="408.70" y="453.30" class="u2">and</text><text x="408.70" y="464.60" class="u2">Threatened</text><text x="408.70" y="475.90" class="u2">Systems</text><rect x="448.0" y="32.0" width="60" height="387.9" fill="#000"/><rect x="451.4" y="36.0" width="53.2" height="380.5" fill="url(#g11)"/><rect x="450.0" y="359.75" width="56" height="3.85" fill="#000"/><text x="477.70" y="55.10" class="bt">Large</text><text x="477.70" y="66.40" class="bt">Increase</text><text x="477.70" y="351.00" class="bb">Increase</text><text x="477.70" y="430.70" class="u">Risk of</text><text x="477.70" y="442.00" class="u">Extreme</text><text x="477.70" y="453.30" class="u2">Weather</text><text x="477.70" y="464.60" class="u2">Events</text><rect x="517.0" y="32.0" width="60" height="387.9" fill="#000"/><rect x="520.4" y="36.0" width="53.2" height="380.5" fill="url(#g12)"/><rect x="519.0" y="359.75" width="56" height="3.85" fill="#000"/><text x="546.70" y="55.10" class="bt">Negative</text><text x="546.70" y="66.40" class="bt">for Most</text><text x="546.70" y="77.70" class="bt">Regions</text><text x="546.70" y="296.00" class="bb">Negative</text><text x="546.70" y="307.00" class="bb">for Some</text><text x="546.70" y="318.00" class="bb">Regions;</text><text x="546.70" y="329.00" class="bb">Positive</text><text x="546.70" y="340.00" class="bb">for</text><text x="546.70" y="351.00" class="bb">Others</text><text x="546.70" y="430.70" class="u">Distribution</text><text x="546.70" y="442.00" class="u">of Impacts</text><rect x="586.0" y="32.0" width="60" height="387.9" fill="#000"/><rect x="589.4" y="36.0" width="53.2" height="380.5" fill="url(#g13)"/><rect x="588.0" y="359.75" width="56" height="3.85" fill="#000"/><text x="615.70" y="55.10" class="bt">Net</text><text x="615.70" y="66.40" class="bt">Negative</text><text x="615.70" y="77.70" class="bt">in All</text><text x="615.70" y="89.00" class="bt">Metrics</text><text x="615.70" y="274.00" class="bb">Positive or</text><text x="615.70" y="285.00" class="bb">Negative</text><text x="615.70" y="296.00" class="bb">Market</text><text x="615.70" y="307.00" class="bb">Impacts:</text><text x="615.70" y="318.00" class="bb">Majority</text><text x="615.70" y="329.00" class="bb">of People</text><text x="615.70" y="340.00" class="bb">Adversely</text><text x="615.70" y="351.00" class="bb">Affected</text><text x="615.70" y="430.70" class="u">Aggregate</text><text x="615.70" y="442.00" class="u">Impacts</text><rect x="655.0" y="32.0" width="60" height="387.9" fill="#000"/><rect x="658.4" y="36.0" width="53.2" height="380.5" fill="url(#g14)"/><rect x="657.0" y="359.75" width="56" height="3.85" fill="#000"/><text x="684.70" y="55.10" class="bt">High</text><text x="684.70" y="351.00" class="bb">Low</text><text x="684.70" y="430.70" class="u">Risks of Large</text><text x="684.70" y="442.00" class="u">Scale</text><text x="684.70" y="453.30" class="u2">Discontinuities</text><text x="365.50" y="38.10" class="ax">5</text><text x="725.50" y="38.00" class="ax">5</text><text x="365.50" y="102.70" class="ax">4</text><text x="725.50" y="102.80" class="ax">4</text><text x="365.50" y="167.30" class="ax">3</text><text x="725.50" y="167.60" class="ax">3</text><text x="365.50" y="231.90" class="ax">2</text><text x="725.50" y="232.40" class="ax">2</text><text x="365.50" y="296.50" class="ax">1</text><text x="725.50" y="297.20" class="ax">1</text><text x="365.50" y="361.10" class="ax">0</text><text x="725.50" y="362.00" class="ax">0</text><text x="365.50" y="419.30" class="ax">-0.6</text><text x="726.20" y="419.80" class="ax">-0.6</text><text x="188.00" y="14.90" class="ti">TAR (2001) Reasons For Concern</text><text x="546.30" y="15.70" class="ti">Updated Reasons For Concern</text><text x="750.50" y="196.70" class="lb">Future</text><text x="749.80" y="391.10" class="lb">Past</text><text transform="translate(791.3,198.2) rotate(-90)" class="ti">Increase in Global Mean Temperature above circa 1990 (°C)</text><path d="M737.50,38.2 C740.10,38.2 741.50,39.400000000000006 741.50,42.400000000000006 L741.42,184.8 Q741.42,192.8 743.22,195.8 Q741.42,198.8 741.42,206.8 L741.33,352.8 C741.33,355.8 739.93,357.0 737.33,357.0" fill="none" stroke="#000" stroke-width="4" stroke-linejoin="round"/><rect x="741.92" y="193.20000000000002" width="4.6" height="5.2" fill="#000"/><path d="M737.33,359.6 C739.93,359.6 741.33,360.8 741.33,363.8 L741.32,376.7 Q741.32,384.7 743.12,387.7 Q741.32,390.7 741.32,398.7 L741.30,413.2 C741.30,416.2 739.90,417.4 737.30,417.4" fill="none" stroke="#000" stroke-width="4" stroke-linejoin="round"/><rect x="741.82" y="385.09999999999997" width="4.6" height="5.2" fill="#000"/>
</svg>
</body></html>
